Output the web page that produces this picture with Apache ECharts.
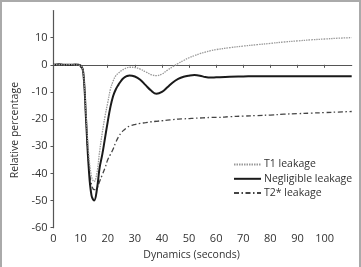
<!DOCTYPE html>
<html><head><meta charset="utf-8">
<script src="https://cdn.jsdelivr.net/npm/echarts@6/dist/echarts.min.js"></script>
<style>
html,body{margin:0;padding:0;background:#fff;}
#wrap{position:relative;width:361px;height:267px;}
#chart{position:absolute;left:0;top:0;width:361px;height:267px;}
#frame{position:absolute;left:0;top:0;width:357px;height:267px;border-top:2px solid #aaa;border-left:2px solid #aaa;border-right:2px solid #aaa;box-sizing:content-box;pointer-events:none;}
</style></head>
<body><div id="wrap"><div id="chart"></div><div id="frame"></div></div>
<script>
// Time (seconds)
const time = [0,2,4,6,8,10,11,12,13,14,15,16,17,18,19,20,21,22,23,24,25,26,27,28,30,32,34,36,38,40,42,44,46,48,50,52,54,56,58,60,65,70,75,80,85,90,95,100,105,110];
const t1Leakage = [0,0.1,0,0.1,0,-0.3,-3,-18,-33,-41,-43,-40,-32,-25,-19,-14,-9,-6,-4,-3,-2.2,-1.6,-1.1,-0.9,-1,-1.6,-2.6,-3.6,-4,-3.4,-2,-0.7,0.5,1.6,2.6,3.4,4.1,4.7,5.2,5.6,6.3,6.9,7.4,7.9,8.4,8.8,9.2,9.5,9.8,10];
const negligibleLeakage = [0,0.2,0,0,0.1,-0.3,-3,-20,-38,-48,-50,-46,-38,-33,-27,-21,-15.5,-11.5,-9,-7.3,-5.8,-4.8,-4.2,-3.9,-4.3,-5.5,-7.5,-9.5,-10.7,-10,-8.3,-6.5,-5.2,-4.4,-4,-3.8,-4,-4.5,-4.7,-4.6,-4.4,-4.3,-4.2,-4.2,-4.2,-4.2,-4.2,-4.2,-4.2,-4.2];
const t2StarLeakage = [0,0.1,0,0,0,-0.3,-3,-20,-37,-44,-46,-45.5,-43,-40.5,-38,-35,-33,-31,-28.5,-26.5,-25,-24,-23.2,-22.6,-22,-21.6,-21.3,-21,-20.8,-20.6,-20.4,-20.2,-20,-19.9,-19.8,-19.7,-19.6,-19.5,-19.4,-19.4,-19.1,-18.9,-18.7,-18.5,-18.2,-18,-17.8,-17.6,-17.4,-17.2];
const xTicks = [0,10,20,30,40,50,60,70,80,90,100];
const yTicks = [-60,-50,-40,-30,-20,-10,0,10];
const seriesNames = ['T1 leakage','Negligible leakage','T2* leakage'];
const xName = 'Dynamics (seconds)';
const yName = 'Relative percentage';

const pair = arr => time.map((t,i)=>[t,arr[i]]);
const FONT = 'Open Sans';
const chart = echarts.init(document.getElementById('chart'));
chart.setOption({
  animation:false,
  grid:{left:53.5,right:9.3,top:10.5,bottom:39.3},
  legend:{
    orient:'vertical', left:228, top:154, itemWidth:27, itemHeight:10, itemGap:3.3,
    itemStyle:{opacity:0},
    textStyle:{fontFamily:FONT,fontSize:10.5,color:'#333',padding:[0,0,0,-2]},
    data:seriesNames
  },
  xAxis:{
    type:'value', min:0, max:110, interval:10,
    name:xName, nameLocation:'middle', nameGap:20,
    nameTextStyle:{fontFamily:FONT,fontSize:10.5,color:'#333',padding:[0,22,0,0]},
    axisLine:{lineStyle:{color:'#555',width:1.2}},
    axisTick:{show:true,length:3,customValues:xTicks,lineStyle:{color:'#555'}},
    axisLabel:{customValues:xTicks,fontFamily:FONT,fontSize:11,color:'#333',margin:6},
    splitLine:{show:false}
  },
  yAxis:{
    type:'value', min:-60, max:20, interval:10,
    name:yName, nameLocation:'middle', nameGap:33, nameRotate:90,
    nameTextStyle:{fontFamily:FONT,fontSize:10.5,color:'#333',padding:[0,22,0,0]},
    axisLine:{show:true,lineStyle:{color:'#555',width:1.2}},
    axisTick:{show:true,length:3,customValues:yTicks,lineStyle:{color:'#555'}},
    axisLabel:{customValues:yTicks,fontFamily:FONT,fontSize:11,color:'#333',margin:6},
    splitLine:{show:false}
  },
  series:[
    {name:seriesNames[0],type:'line',smooth:0.4,symbol:'none',data:pair(t1Leakage),
     lineStyle:{color:'#999',width:1.3,type:[1.5,1]},itemStyle:{color:'#999'},z:3},
    {name:seriesNames[1],type:'line',smooth:0.4,symbol:'none',data:pair(negligibleLeakage),
     lineStyle:{color:'#1a1a1a',width:2},itemStyle:{color:'#1a1a1a'},z:2},
    {name:seriesNames[2],type:'line',smooth:0.4,symbol:'none',data:pair(t2StarLeakage),
     lineStyle:{color:'#444',width:1.3,type:[5,2.5,1.5,2.5]},itemStyle:{color:'#444'},z:1}
  ]
});
</script></body></html>
